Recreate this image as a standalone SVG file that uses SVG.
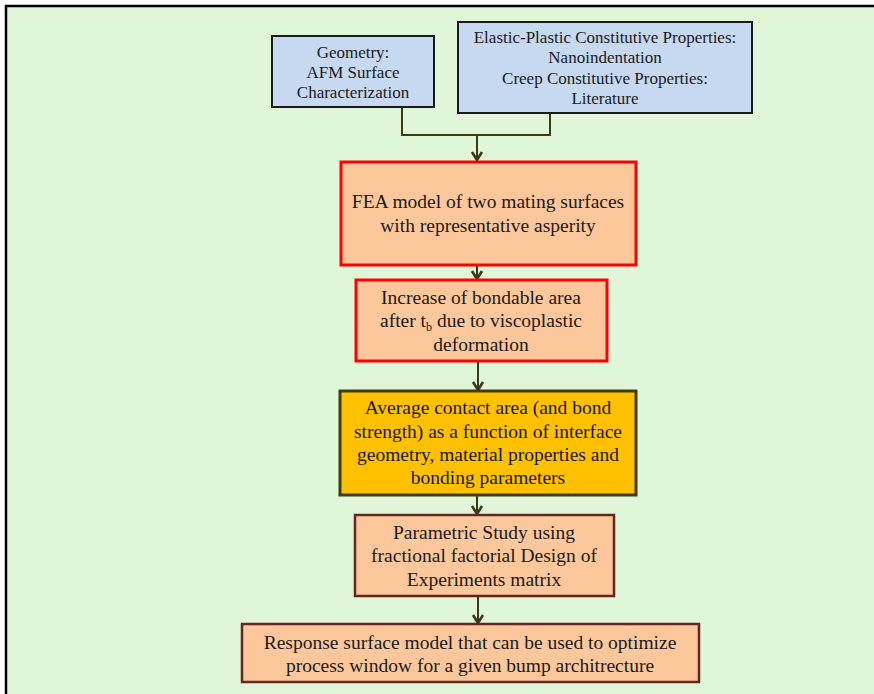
<svg xmlns="http://www.w3.org/2000/svg" width="874" height="694" viewBox="0 0 874 694">
<defs>
<marker id="ah" markerWidth="14" markerHeight="14" refX="12" refY="7" orient="auto" markerUnits="userSpaceOnUse" viewBox="0 0 14 14">
<polyline points="4,2 12,7 4,12" fill="none" stroke="#3a3a14" stroke-width="2.6"/>
</marker>
</defs>
<style>
text{font-family:'Liberation Serif','Tinos','DejaVu Serif',serif;fill:#1a1a1a;text-anchor:middle}
.blue{fill:#c6d9f1;stroke:#1a1a1a;stroke-width:2}
.red{fill:#fcc89b;stroke:#ff0000;stroke-width:3}
.gold{fill:#ffc000;stroke:#3d3d10;stroke-width:3}
.brown{fill:#fcc89b;stroke:#632523;stroke-width:2.5}
.c{fill:none;stroke:#3a3a14;stroke-width:2}
.s15{font-size:17px}
.s17{font-size:19.5px}
</style>
<rect x="0" y="0" width="874" height="694" fill="#ffffff"/>
<rect x="6" y="6" width="900" height="720" fill="#e0f6d9" stroke="#000" stroke-width="2.5"/>
<g id="connectors">
<polyline class="c" points="402,107 402,135 550,135 550,113"/>
<line class="c" x1="477" y1="135" x2="477" y2="160" marker-end="url(#ah)"/>
<line class="c" x1="477" y1="265" x2="477" y2="279" marker-end="url(#ah)"/>
<line class="c" x1="478" y1="361" x2="478" y2="390" marker-end="url(#ah)"/>
<line class="c" x1="477" y1="495" x2="477" y2="514" marker-end="url(#ah)"/>
<line class="c" x1="478" y1="596" x2="478" y2="623" marker-end="url(#ah)"/>
</g>
<g id="geometry">
<rect class="blue" x="272" y="36" width="162" height="71"/>
<text class="s15" x="353" y="58">Geometry:</text>
<text class="s15" x="353" y="78">AFM Surface</text>
<text class="s15" x="353" y="98">Characterization</text>
</g>
<g id="properties">
<rect class="blue" x="458" y="22" width="294" height="91"/>
<text class="s15" x="605" y="43">Elastic-Plastic Constitutive Properties:</text>
<text class="s15" x="605" y="63">Nanoindentation</text>
<text class="s15" x="605" y="84">Creep Constitutive Properties:</text>
<text class="s15" x="605" y="104">Literature</text>
</g>
<g id="fea">
<rect class="red" x="341" y="162" width="295" height="103"/>
<text class="s17" x="488" y="208">FEA model of two mating surfaces</text>
<text class="s17" x="488" y="232">with representative  asperity</text>
</g>
<g id="increase">
<rect class="red" x="356" y="280" width="251" height="81"/>
<text class="s17" x="481" y="304">Increase of bondable area</text>
<text class="s17" x="481" y="327">after t<tspan font-size="12" dy="4">b</tspan><tspan dy="-4"> due to viscoplastic</tspan></text>
<text class="s17" x="481" y="351">deformation</text>
</g>
<g id="average">
<rect class="gold" x="340" y="391" width="296" height="104"/>
<text class="s17" x="488" y="414">Average contact area (and bond</text>
<text class="s17" x="488" y="438">strength) as a function of interface</text>
<text class="s17" x="488" y="461">geometry, material properties and</text>
<text class="s17" x="488" y="484">bonding parameters</text>
</g>
<g id="parametric">
<rect class="brown" x="355" y="515" width="259" height="81"/>
<text class="s17" x="484" y="539">Parametric Study using</text>
<text class="s17" x="484" y="562">fractional factorial Design of</text>
<text class="s17" x="484" y="586">Experiments matrix</text>
</g>
<g id="response">
<rect class="brown" x="242" y="624" width="457" height="58"/>
<text class="s17" x="470" y="649">Response surface model that can be used to optimize</text>
<text class="s17" x="470" y="672">process window for a given bump architrecture</text>
</g>
</svg>
